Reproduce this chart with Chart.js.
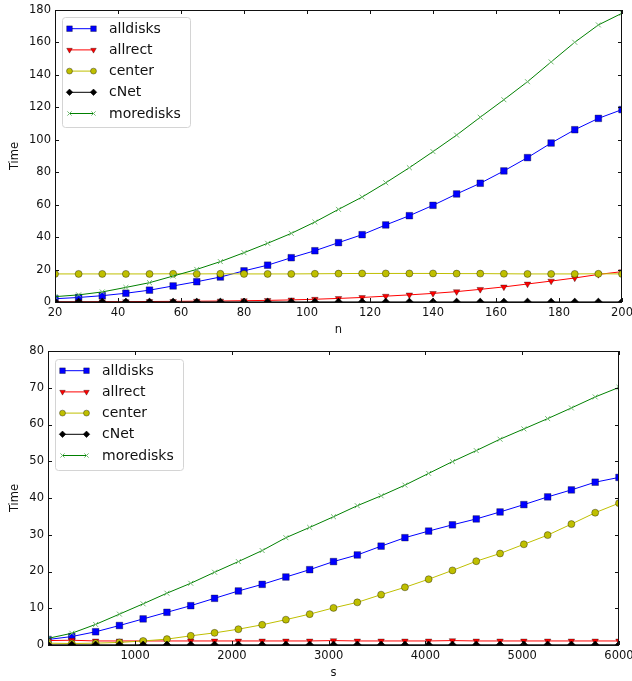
<!DOCTYPE html>
<html>
<head>
<meta charset="utf-8">
<script src="https://cdn.jsdelivr.net/npm/chart.js@4.4.1/dist/chart.umd.min.js"></script>
<style>
  html, body { margin: 0; padding: 0; background: #fff; }
  canvas { position: absolute; left: 0; }
  #nChart { top: 0; }
  #sChart { top: 340px; }
</style>
</head>
<body>
<canvas id="nChart" width="632" height="340"></canvas>
<canvas id="sChart" width="632" height="341"></canvas>
<script>
// timings against n
const nValues = [20, 27.5, 35, 42.5, 50, 57.5, 65, 72.5, 80, 87.5, 95, 102.5, 110,
  117.5, 125, 132.5, 140, 147.5, 155, 162.5, 170, 177.5, 185, 192.5, 200];
const alldisksN = [2.0, 2.8, 3.9, 5.4, 7.3, 9.9, 12.5, 15.4, 19.2, 22.7, 27.3, 31.6, 36.6,
  41.5, 47.5, 53.2, 59.6, 66.6, 73.2, 80.8, 89.0, 98.0, 106.2, 113.2, 118.6];
const allrectN = [0.1, 0.1, 0.2, 0.2, 0.3, 0.4, 0.5, 0.6, 0.8, 1.0, 1.3, 1.7, 2.2,
  2.8, 3.6, 4.4, 5.3, 6.4, 7.8, 9.3, 11.1, 12.9, 14.8, 17.0, 18.7];
const centerN = [17.3, 17.3, 17.3, 17.3, 17.3, 17.4, 17.3, 17.4, 17.3, 17.3, 17.3, 17.4, 17.5,
  17.6, 17.6, 17.6, 17.6, 17.5, 17.5, 17.4, 17.3, 17.3, 17.3, 17.4, 17.3];
const cNetN = [0.05, 0.05, 0.05, 0.05, 0.05, 0.05, 0.05, 0.05, 0.05, 0.05, 0.05, 0.05, 0.05,
  0.05, 0.05, 0.05, 0.05, 0.05, 0.05, 0.05, 0.05, 0.05, 0.05, 0.05, 0.05];
const moredisksN = [3.3, 4.4, 6.2, 9.0, 11.9, 16.0, 20.1, 24.9, 30.4, 36.2, 42.3, 49.3, 57.1,
  64.7, 73.5, 82.8, 92.7, 102.9, 113.9, 124.7, 135.8, 148.0, 160.1, 170.8, 178.0];
const nTicks = [20, 40, 60, 80, 100, 120, 140, 160, 180, 200];
const nTimeTicks = [0, 20, 40, 60, 80, 100, 120, 140, 160, 180];

// timings against s
const sValues = [100, 346, 592, 838, 1083, 1329, 1575, 1821, 2067, 2313, 2558, 2804, 3050,
  3296, 3542, 3788, 4033, 4279, 4525, 4771, 5017, 5263, 5508, 5754, 6000];
const alldisksS = [1.5, 2.3, 3.6, 5.3, 7.1, 8.9, 10.7, 12.7, 14.7, 16.5, 18.5, 20.5, 22.7,
  24.5, 26.9, 29.2, 31.0, 32.7, 34.3, 36.2, 38.2, 40.3, 42.2, 44.3, 45.6];
const allrectS = [1.2, 1.3, 1.1, 1.1, 1.1, 1.1, 1.1, 1.1, 1.1, 1.1, 1.1, 1.1, 1.2,
  1.1, 1.1, 1.1, 1.1, 1.2, 1.1, 1.1, 1.1, 1.1, 1.1, 1.1, 1.1];
const centerS = [0.5, 0.4, 0.5, 0.7, 1.1, 1.6, 2.5, 3.3, 4.3, 5.5, 6.9, 8.4, 10.1,
  11.6, 13.7, 15.7, 17.9, 20.3, 22.8, 24.9, 27.4, 29.9, 32.9, 36.0, 38.6];
const cNetS = [0.05, 0.05, 0.05, 0.05, 0.05, 0.05, 0.05, 0.05, 0.05, 0.05, 0.05, 0.05, 0.05,
  0.05, 0.05, 0.05, 0.05, 0.05, 0.05, 0.05, 0.05, 0.05, 0.05, 0.05, 0.05];
const moredisksS = [1.8, 3.2, 5.6, 8.4, 11.2, 14.1, 16.8, 19.8, 22.7, 25.7, 29.2, 32.0, 34.9,
  37.9, 40.6, 43.5, 46.7, 49.9, 52.9, 56.0, 58.8, 61.6, 64.5, 67.5, 70.1];
const sTicks = [1000, 2000, 3000, 4000, 5000, 6000];
const sTimeTicks = [0, 10, 20, 30, 40, 50, 60, 70, 80];

const FONT = 'DejaVu Sans';
const TEXT = '#111';

// line + marker look of each series
const styles = {
  alldisks:  { color: '#0000ff', fill: '#0000ff', edge: 'rgba(0,0,0,0.55)', edgeW: 0.6, pointStyle: 'rect', radius: 4.7, rotation: 0 },
  allrect:   { color: '#ff0000', fill: '#ff0000', edge: 'rgba(0,0,0,0.55)', edgeW: 0.6, pointStyle: 'triangle', radius: 3.8, rotation: 180 },
  center:    { color: '#bfbf00', fill: '#bfbf00', edge: 'rgba(0,0,0,0.6)', edgeW: 0.6, pointStyle: 'circle', radius: 3.5, rotation: 0 },
  cNet:      { color: '#000000', fill: '#000000', edge: '#000000', edgeW: 0.6, pointStyle: 'rectRot', radius: 3.8, rotation: 0 },
  moredisks: { color: '#008000', fill: '#008000', edge: '#6fb86f', edgeW: 1, pointStyle: 'crossRot', radius: 3.5, rotation: 0 }
};

function series(name, xs, ys, i) {
  const st = styles[name];
  return {
    label: name,
    data: xs.map((x, k) => ({ x: x, y: ys[k] })),
    borderColor: st.color,
    borderWidth: 1,
    backgroundColor: st.fill,
    pointBackgroundColor: st.fill,
    pointBorderColor: st.edge,
    pointBorderWidth: st.edgeW,
    pointStyle: st.pointStyle,
    pointRadius: st.radius,
    pointRotation: st.rotation,
    tension: 0,
    fill: false,
    clip: 0,
    order: 4 - i
  };
}

// box frame with inward ticks on all four sides
const framePlugin = {
  id: 'frame',
  afterDatasetsDraw(chart) {
    const { ctx, chartArea: a, scales: { x, y } } = chart;
    ctx.save();
    ctx.strokeStyle = '#111';
    ctx.lineWidth = 1;
    ctx.beginPath();
    x.ticks.forEach(t => {
      const px = Math.round(x.getPixelForValue(t.value)) + 0.5;
      ctx.moveTo(px, a.bottom); ctx.lineTo(px, a.bottom - 4);
      ctx.moveTo(px, a.top); ctx.lineTo(px, a.top + 4);
    });
    y.ticks.forEach(t => {
      const py = Math.round(y.getPixelForValue(t.value)) + 0.5;
      ctx.moveTo(a.left, py); ctx.lineTo(a.left + 4, py);
      ctx.moveTo(a.right, py); ctx.lineTo(a.right - 4, py);
    });
    ctx.stroke();
    ctx.strokeRect(Math.round(a.left) + 0.5, Math.round(a.top) + 0.5,
      Math.round(a.right - a.left) - 1, Math.round(a.bottom - a.top));
    ctx.restore();
  }
};

// legend box inside the plot, line with a marker at each end
const boxLegendPlugin = {
  id: 'boxLegend',
  afterDraw(chart, args, opts) {
    const { ctx } = chart;
    const { x, y, w, h, rowH } = opts;
    ctx.save();
    ctx.beginPath();
    ctx.roundRect(x + 0.5, y + 0.5, w, h, 3);
    ctx.fillStyle = '#fff';
    ctx.fill();
    ctx.strokeStyle = '#d4d4d4';
    ctx.lineWidth = 1;
    ctx.stroke();
    const names = ['alldisks', 'allrect', 'center', 'cNet', 'moredisks'];
    names.forEach((name, i) => {
      const st = styles[name];
      const cy = y + 11.7 + i * rowH;
      const x0 = x + 7.5, x1 = x + 31.5;
      ctx.beginPath();
      ctx.strokeStyle = st.color;
      ctx.lineWidth = 1;
      ctx.moveTo(x0, cy); ctx.lineTo(x1, cy);
      ctx.stroke();
      [x0, x1].forEach(px => {
        ctx.fillStyle = st.fill;
        ctx.strokeStyle = st.edge;
        ctx.lineWidth = st.edgeW;
        Chart.helpers.drawPoint(ctx, {
          pointStyle: st.pointStyle,
          rotation: st.rotation,
          radius: st.radius * 0.85,
          borderWidth: st.edgeW
        }, px, cy);
      });
      ctx.fillStyle = TEXT;
      ctx.font = '14px "' + FONT + '"';
      ctx.textBaseline = 'middle';
      ctx.textAlign = 'left';
      ctx.fillText(name, x + 47, cy + 0.5);
    });
    ctx.restore();
  }
};

function makeChart(id, xs, sets, cfg) {
  const names = ['alldisks', 'allrect', 'center', 'cNet', 'moredisks'];
  return new Chart(document.getElementById(id), {
    type: 'line',
    data: { datasets: names.map((nm, i) => series(nm, xs, sets[i], i)) },
    options: {
      responsive: false,
      animation: false,
      events: [],
      layout: { padding: { top: cfg.padTop, right: cfg.padRight, left: 0, bottom: 0 } },
      plugins: {
        legend: { display: false },
        tooltip: { enabled: false },
        boxLegend: cfg.legend
      },
      scales: {
        x: {
          type: 'linear',
          min: cfg.xMin,
          max: cfg.xMax,
          afterBuildTicks: axis => { axis.ticks = cfg.xTicks.map(v => ({ value: v })); },
          afterFit: axis => { axis.height = cfg.xAxisHeight; axis.paddingLeft = 0; axis.paddingRight = 0; },
          grid: { display: false, drawTicks: false },
          border: { display: false },
          ticks: { autoSkip: false, maxRotation: 0, padding: 4, color: TEXT, font: { family: FONT, size: 11.5 },
                   callback: v => String(v) },
          title: { display: true, text: cfg.xTitle, color: TEXT, font: { family: FONT, size: 11.5 }, padding: { top: 0, bottom: cfg.titlePadBottom } }
        },
        y: {
          min: 0,
          max: cfg.yMax,
          afterBuildTicks: axis => { axis.ticks = cfg.yTicks.map(v => ({ value: v })); },
          afterFit: axis => { axis.width = cfg.yAxisWidth; axis.paddingTop = 0; axis.paddingBottom = 0; },
          grid: { display: false, drawTicks: false },
          border: { display: false },
          ticks: { padding: 4, color: TEXT, font: { family: FONT, size: 11.5 }, callback: v => String(v) },
          title: { display: true, text: 'Time', color: TEXT, font: { family: FONT, size: 11.5 }, padding: { top: 8, bottom: 0 } }
        }
      }
    },
    plugins: [framePlugin, boxLegendPlugin]
  });
}

makeChart('nChart', nValues, [alldisksN, allrectN, centerN, cNetN, moredisksN], {
  xMin: 20, xMax: 200, xTicks: nTicks, yMax: 180, yTicks: nTimeTicks, xTitle: 'n',
  padTop: 10, padRight: 10, yAxisWidth: 55, xAxisHeight: 38, titlePadBottom: 3,
  legend: { x: 62, y: 17, w: 128, h: 110, rowH: 21.2 }
});

makeChart('sChart', sValues, [alldisksS, allrectS, centerS, cNetS, moredisksS], {
  xMin: 100, xMax: 6000, xTicks: sTicks, yMax: 80, yTicks: sTimeTicks, xTitle: 's',
  padTop: 11, padRight: 13, yAxisWidth: 48, xAxisHeight: 36, titlePadBottom: 1,
  legend: { x: 55, y: 19, w: 128, h: 111, rowH: 21.2 }
});
</script>
</body>
</html>
